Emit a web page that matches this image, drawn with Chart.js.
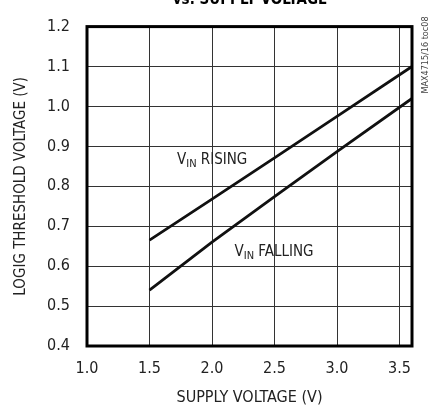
<!DOCTYPE html>
<html lang="en">
<head>
    <meta charset="UTF-8">
    <title>Logic Threshold Voltage vs. Supply Voltage</title>
    <script src="https://cdn.jsdelivr.net/npm/chart.js"></script>
    <style>
        html, body { margin: 0; padding: 0; background: #fff; }
        #wrap { width: 430px; height: 407px; }
    </style>
</head>
<body>
    <div id="wrap"><canvas id="thresholdChart" width="430" height="407"></canvas></div>

    <script>
        // values
        const supplyVolts = [1.5, 2.0, 2.5, 3.0, 3.6];
        const risingVolts = [0.665, 0.768, 0.871, 0.975, 1.10];
        const fallingVolts = [0.540, 0.660, 0.774, 0.887, 1.020];

        const xTicks = [1.0, 1.5, 2.0, 2.5, 3.0, 3.5];
        const yTicks = [0.4, 0.5, 0.6, 0.7, 0.8, 0.9, 1.0, 1.1, 1.2];

        const FONT = "'DejaVu Sans Condensed', 'Liberation Sans Narrow', sans-serif";

        // V_IN labels with subscript, placed in data units
        const seriesLabels = [
            { x: 1.72, y: 0.855, sub: 'IN', text: ' RISING' },
            { x: 2.18, y: 0.625, sub: 'IN', text: ' FALLING' }
        ];

        const decorPlugin = {
            id: 'decor',
            afterDraw(chart) {
                const ctx = chart.ctx;
                const a = chart.chartArea;
                const xs = chart.scales.x, ys = chart.scales.y;
                ctx.save();

                // heavy frame around the plot
                ctx.strokeStyle = '#000';
                ctx.lineWidth = 3;
                ctx.strokeRect(a.left, a.top, a.right - a.left, a.bottom - a.top);

                // series labels
                ctx.fillStyle = '#222';
                ctx.textBaseline = 'alphabetic';
                ctx.textAlign = 'left';
                seriesLabels.forEach(l => {
                    let px = xs.getPixelForValue(l.x);
                    const py = ys.getPixelForValue(l.y);
                    ctx.font = '15px ' + FONT;
                    ctx.fillText('V', px, py);
                    px += ctx.measureText('V').width;
                    ctx.font = '11px ' + FONT;
                    ctx.fillText(l.sub, px, py + 3);
                    px += ctx.measureText(l.sub).width;
                    ctx.font = '15px ' + FONT;
                    ctx.fillText(l.text, px, py);
                });

                // clipped title at the very top
                ctx.font = 'bold 15px ' + FONT;
                ctx.textAlign = 'center';
                ctx.fillStyle = '#000';
                ctx.fillText('vs. SUPPLY VOLTAGE', 250, 4);

                // figure id on the right edge
                ctx.translate(426, 55);
                ctx.rotate(-Math.PI / 2);
                ctx.font = '9px ' + FONT;
                ctx.fillStyle = '#444';
                ctx.textBaseline = 'middle';
                ctx.fillText('MAX4715/16 toc08', 0, 0);
                ctx.restore();
            }
        };

        const ctx = document.getElementById('thresholdChart').getContext('2d');
        new Chart(ctx, {
            type: 'line',
            data: {
                datasets: [
                    {
                        label: 'VIN RISING',
                        data: supplyVolts.map((v, i) => ({ x: v, y: risingVolts[i] })),
                        borderColor: '#111',
                        borderWidth: 2.8,
                        pointRadius: 0,
                        fill: false
                    },
                    {
                        label: 'VIN FALLING',
                        data: supplyVolts.map((v, i) => ({ x: v, y: fallingVolts[i] })),
                        borderColor: '#111',
                        borderWidth: 2.8,
                        pointRadius: 0,
                        fill: false
                    }
                ]
            },
            options: {
                responsive: false,
                animation: false,
                layout: { padding: { left: 0, right: 18, top: 19, bottom: 0 } },
                plugins: {
                    legend: { display: false },
                    tooltip: { enabled: false }
                },
                scales: {
                    x: {
                        type: 'linear',
                        min: 1.0,
                        max: 3.6,
                        afterBuildTicks: s => { s.ticks = xTicks.map(v => ({ value: v })); },
                        afterFit: s => { s.height = 61; },
                        grid: { color: '#333', lineWidth: 1, drawTicks: false },
                        border: { display: false },
                        ticks: {
                            padding: 13,
                            color: '#222',
                            font: { family: FONT, size: 16 },
                            callback: v => v.toFixed(1)
                        },
                        title: {
                            display: true,
                            text: 'SUPPLY VOLTAGE (V)',
                            color: '#222',
                            font: { family: FONT, size: 16 },
                            padding: { top: 4, bottom: 0 }
                        }
                    },
                    y: {
                        type: 'linear',
                        min: 0.4,
                        max: 1.2,
                        afterBuildTicks: s => { s.ticks = yTicks.map(v => ({ value: v })); },
                        afterFit: s => { s.width = 87; },
                        grid: { color: '#333', lineWidth: 1, drawTicks: false },
                        border: { display: false },
                        ticks: {
                            padding: 17,
                            color: '#222',
                            font: { family: FONT, size: 16 },
                            callback: v => v.toFixed(1)
                        },
                        title: {
                            display: true,
                            text: 'LOGIG THRESHOLD VOLTAGE (V)',
                            color: '#222',
                            font: { family: FONT, size: 15 },
                            padding: { top: 12, bottom: 0 }
                        }
                    }
                }
            },
            plugins: [decorPlugin]
        });
    </script>
</body>
</html>
